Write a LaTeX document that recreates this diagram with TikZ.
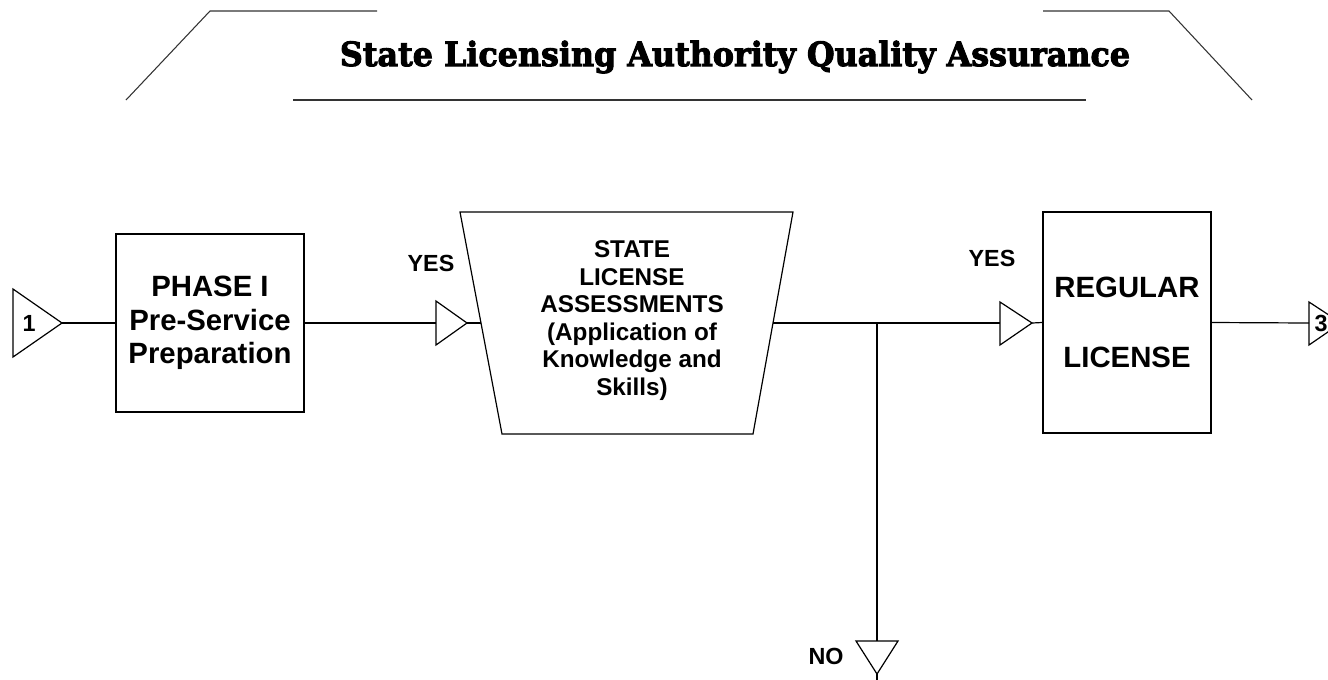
\documentclass[tikz,border=0pt]{standalone}
\usepackage{fontspec}
\setmainfont{Liberation Sans}
\newfontfamily\headfont{DejaVu Serif}[BoldFont={DejaVu Serif Bold},BoldFeatures={FakeBold=3}]
\usetikzlibrary{calc}
\begin{document}
\begin{tikzpicture}[x=0.75pt,y=-0.75pt,
  wire/.style={draw=black,line width=0.9pt},
  rule/.style={draw=black!80,line width=0.8pt},
  flowbox/.style={draw=black,line width=0.9pt,fill=white,inner sep=0pt,align=center,
    font=\fontsize{22}{25.3}\selectfont\bfseries},
  tag/.style={inner sep=0pt,font=\fontsize{17.5}{20}\selectfont\bfseries},
  pointer/.style={draw=black,line width=0.9pt,fill=white,line join=miter}]
\clip (0,0) rectangle (1328,679);

% heading with its bracket rules
\draw[rule] (126,100) -- (210,11) -- (377,11);
\draw[rule] (1043,11) -- (1169,11) -- (1252,100);
\draw[rule] (293,100) -- (1086,100);
\node[anchor=base,inner sep=0pt] (title) at (735,66)
  {\resizebox{592.5pt}{19pt}{\headfont\bfseries State Licensing Authority Quality Assurance}};

% process boxes
\node[flowbox,minimum width=141pt,minimum height=133.5pt] (prep) at (210,323)
  {PHASE I\\Pre-Service\\Preparation};
\node[flowbox,minimum width=126pt,minimum height=165.75pt] (lic) at (1127,322.5)
  {REGULAR\\[27pt]LICENSE};

% assessment trapezoid
\coordinate (atl) at (460,212);
\coordinate (atr) at (793,212);
\coordinate (abr) at (753,434);
\coordinate (abl) at (502,434);
\draw[wire,fill=white] (atl) -- (atr) -- (abr) -- (abl) -- cycle;
\node[inner sep=0pt,align=center,font=\fontsize{18.2}{20.7}\selectfont\bfseries] (assess) at (632,320.5)
  {STATE\\LICENSE\\ASSESSMENTS\\(Application of\\Knowledge and\\Skills)};
\coordinate (ain) at ($(atl)!0.5!(abl)$);
\coordinate (aout) at ($(atr)!0.5!(abr)$);

% off-page pointers
\draw[pointer] (13,289) -- (62,323) -- (13,357) -- cycle;
\coordinate (p1tip) at (62,323);
\node[tag] (n1) at (29,323) {1};

\draw[pointer] (436,301) -- (467,323) -- (436,345) -- cycle;
\coordinate (p2base) at (436,323);
\coordinate (p2tip) at (467,323);

\draw[pointer] (1000,302) -- (1032,323) -- (1000,345) -- cycle;
\coordinate (p4base) at (1000,323);
\coordinate (p4tip) at (1032,323);

\draw[pointer] (1309,302) -- (1341,323) -- (1309,345) -- cycle;
\coordinate (p5base) at (1309,323);
\node[tag] (n3) at (1321,323) {3};

\draw[pointer] (856,641) -- (898,641) -- (877,674) -- cycle;
\coordinate (pnotop) at (877,641);
\coordinate (pnotip) at (877,674);
\coordinate (pnoend) at (877,690);

\coordinate (split) at (877,323);

% connectors
\draw[wire] (p1tip) -- (prep.west);
\draw[wire] (prep.east) -- (p2base);
\draw[wire] (p2tip) -- (ain);
\draw[wire] (aout) -- (p4base);
\draw[wire] (split) -- (pnotop);
\draw[wire] (pnotip) -- (pnoend);
\draw[wire] (p4tip) -- (lic.west);
\draw[wire] (lic.east) -- (p5base);

% branch labels
\node[tag] (yes1) at (431,263) {YES};
\node[tag] (yes2) at (992,258) {YES};
\node[tag] (no) at (826,656) {NO};
\end{tikzpicture}
\end{document}
